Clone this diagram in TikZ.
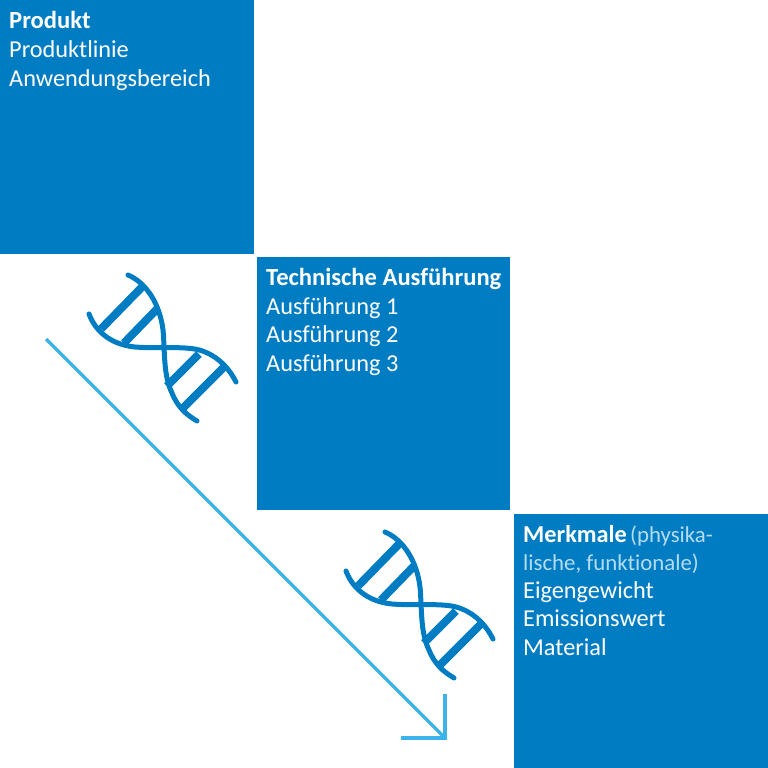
\documentclass[tikz,border=0pt]{standalone}
\usepackage{fontspec}
\setmainfont[Ligatures=NoCommon]{Carlito}
\definecolor{boxblue}{HTML}{007CC3}
\definecolor{arrowblue}{HTML}{3CB4EA}
\definecolor{hintblue}{HTML}{B5DCF2}
\tikzset{
	infobox/.style={fill=boxblue, text=white, anchor=north west, minimum width=#1pt, minimum height=#1pt, inner sep=0pt},
	infotext/.style={text=white, anchor=base west, inner sep=0pt, font=\fontsize{24.3}{28}\selectfont},
	infotitle/.style={infotext, font=\fontsize{24.6}{28}\selectfont\bfseries},
	infohint/.style={infotext, text=hintblue, font=\fontsize{22.8}{28}\selectfont},
	strand/.style={boxblue, line width=5pt, line cap=round},
	rung/.style={boxblue, line width=8pt},
	trend/.style={arrowblue, line width=3.5pt}
}
\def\dnahelix(#1,#2){
	\begin{scope}[shift={(#1,#2)}]
		\draw[strand] (128,275) .. controls (147,283) and (160,305) .. (163,330) .. controls (165,350) and (163,375) .. (172,393) .. controls (178,408) and (187,415) .. (197,421);
		\draw[strand] (89,314) .. controls (97,335) and (115,345) .. (135,347) .. controls (160,349) and (190,345) .. (205,352) .. controls (220,358) and (230,370) .. (236,382);
		\draw[rung] (144,285) -- (101,329);
		\draw[rung] (158,308) -- (124,343);
		\draw[rung] (199,354) -- (167,386);
		\draw[rung] (225,366) -- (182,409);
	\end{scope}
}

\begin{document}
\begin{tikzpicture}[x=1pt, y=-1pt]
	\useasboundingbox (0,0) rectangle (768,768);
	
	\node[infobox=254] (produkt) at (0,0) {};
	\node[infobox=253] (technik) at (257,257) {};
	\node[infobox=254] (merkmale) at (514,514) {};
	
	\node[infotitle] (produkttitle) at (9,29) {Produkt};
	\node[infotext] (produktline) at (9,57.5) {Produktlinie};
	\node[infotext] (produktuse) at (9,86) {Anwendungsbereich};
	
	\node[infotitle] (techniktitle) at (266,285.5) {Technische Ausführung};
	\node[infotext] (technikone) at (266,314) {Ausführung 1};
	\node[infotext] (techniktwo) at (266,342.5) {Ausführung 2};
	\node[infotext] (technikthree) at (266,371) {Ausführung 3};
	
	\node[infotext] (merkmaletitle) at (523,542.5) {\bfseries Merkmale};
	\node[infohint] (merkmalebrace) at (630,542.5) {(physika-};
	\node[infohint] (merkmalehint) at (523,570) {lische, funktionale)};
	\node[infotext] (merkmaleone) at (523,598) {Eigengewicht};
	\node[infotext] (merkmaletwo) at (523,626.5) {Emissionswert};
	\node[infotext] (merkmalethree) at (523,655) {Material};
	
	\dnahelix(0,0)
	\dnahelix(257,257)
	
	\coordinate (trendstart) at (46,339);
	\coordinate (trendend) at (445,738);
	\coordinate (barbup) at (445,694);
	\coordinate (barbleft) at (401,738);
	\draw[trend] (trendstart) -- (trendend);
	\draw[trend, line join=miter] (barbup) -- (trendend) -- (barbleft);
\end{tikzpicture}
\end{document}
